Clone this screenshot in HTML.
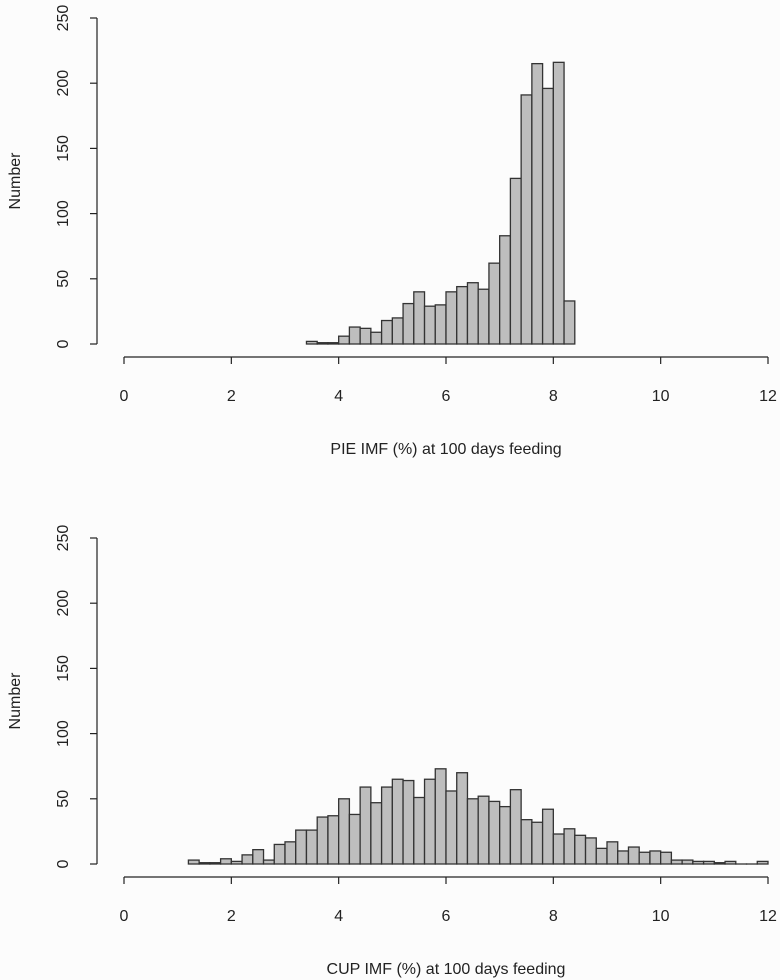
<!DOCTYPE html>
<html><head><meta charset="utf-8"><style>
body{margin:0;background:#fcfcfc;}
svg{display:block;font-family:"Liberation Sans",Arial,sans-serif;}
text{fill:#222;font-size:16px;}
</style></head><body>
<svg id="chart" width="780" height="980"></svg>
<script>
const binStartPie = 3.4;
const pieCounts = [2,1,1,6,13,12,9,18,20,31,40,29,30,40,44,47,42,62,83,127,191,215,196,216,33];
const binStartCup = 1.2;
const cupCounts = [3,1,1,4,2,7,11,3,15,17,26,26,36,37,50,38,59,47,59,65,64,51,65,73,56,70,50,52,48,44,57,34,32,42,23,27,22,20,12,17,10,13,9,10,9,3,3,2,2,1,2,0,0,2];
const binWidth = 0.2;
const xTicks = [0,2,4,6,8,10,12];
const yTicks = [0,50,100,150,200,250];
const titles = ["PIE IMF (%) at 100 days feeding","CUP IMF (%) at 100 days feeding"];

const NS="http://www.w3.org/2000/svg";
const svg=document.getElementById('chart');
function mk(t,a,p){const e=document.createElementNS(NS,t);for(const k in a)e.setAttribute(k,a[k]);(p||svg).appendChild(e);return e;}
const xs=v=>124+v*(644/12);

function panel(base, counts, start, title, idx){
  const g=mk('g',{});
  
  
  const ys=v=>base-v*(326/250);
  counts.forEach((c,i)=>{
    const x0=xs(start+i*binWidth), x1=xs(start+(i+1)*binWidth);
    const r=mk('rect',{x:x0,y:ys(c),width:x1-x0,height:Math.max(base-ys(c),0.01),fill:'#bebebe',stroke:'#333','stroke-width':1.3},g);
    
    
  });
  // y axis
  const ya=mk('line',{x1:97,x2:97,y1:ys(0),y2:ys(250),stroke:'#222','stroke-width':1.2},g);
  
  
  yTicks.forEach(t=>{
    mk('line',{x1:90,x2:97,y1:ys(t),y2:ys(t),stroke:'#222','stroke-width':1.2},g);
    const tx=mk('text',{x:68,y:ys(t),'text-anchor':'middle',transform:`rotate(-90 68 ${ys(t)})`},g);
    tx.textContent=t;
    
    
  });
  const yl=mk('text',{x:20,y:ys(125),'text-anchor':'middle',transform:`rotate(-90 20 ${ys(125)})`},g);
  yl.textContent='Number';
  
  
  // x axis
  const ay=base+13;
  const xa=mk('line',{x1:xs(0),x2:xs(12),y1:ay,y2:ay,stroke:'#222','stroke-width':1.2},g);
  
  
  xTicks.forEach(t=>{
    mk('line',{x1:xs(t),x2:xs(t),y1:ay,y2:ay+7,stroke:'#222','stroke-width':1.2},g);
    const tx=mk('text',{x:xs(t),y:ay+44,'text-anchor':'middle'},g);
    tx.textContent=t;
    
    
  });
  const xl=mk('text',{x:xs(6),y:ay+97,'text-anchor':'middle'},g);
  xl.textContent=title;
  
  
}
panel(344, pieCounts, binStartPie, titles[0], 0);
panel(864, cupCounts, binStartCup, titles[1], 1);
</script>
</body></html>
